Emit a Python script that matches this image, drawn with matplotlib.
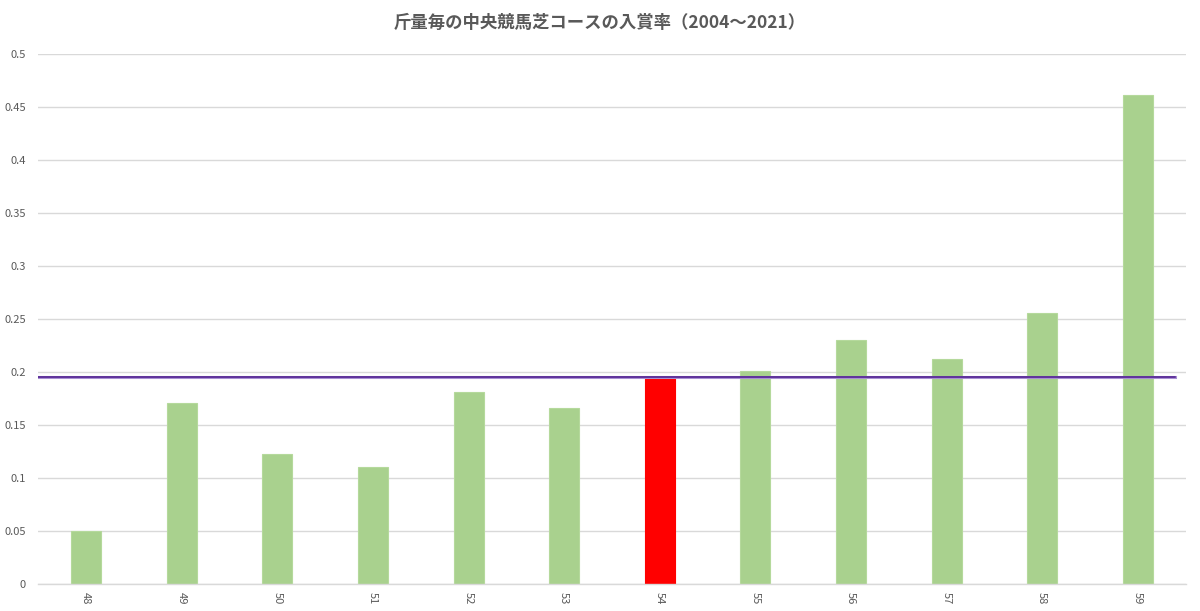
import matplotlib
matplotlib.use("Agg")
import matplotlib.pyplot as plt

plt.rcParams['font.family'] = ['Noto Sans CJK JP', 'DejaVu Sans']

weights = ["48", "49", "50", "51", "52", "53", "54", "55", "56", "57", "58", "59"]
rates = [0.0497, 0.171, 0.123, 0.110, 0.181, 0.166, 0.1955, 0.201, 0.2305, 0.2125, 0.256, 0.461]
highlight = "54"
average = 0.1956
title = "斤量毎の中央競馬芝コースの入賞率（2004〜2021）"

green = "#a9d18e"
red = "#ff0000"
text_gray = "#595959"

fig = plt.figure(figsize=(12, 6.11), dpi=100)
ax = fig.add_axes([0.032, 0.0442, 0.956, 0.8674])

colors = [red if w == highlight else green for w in weights]
edges = ["#ff0000" if w == highlight else "#b5d99c" for w in weights]
x = list(range(len(weights)))
ax.bar(x, rates, width=0.315, color=colors, edgecolor=edges, linewidth=0.8, zorder=2)

ax.set_xlim(-0.5, len(weights) - 0.5)
ax.set_ylim(0, 0.5)
ax.set_yticks([i * 0.05 for i in range(11)])
ax.set_yticklabels(["0", "0.05", "0.1", "0.15", "0.2", "0.25", "0.3", "0.35", "0.4", "0.45", "0.5"])
ax.set_xticks(x)
ax.set_xticklabels(weights, rotation=270)

ax.grid(axis='y', color="#d9d9d9", linewidth=1.0, zorder=0)
ax.set_axisbelow(True)
for s in ["top", "right", "left"]:
    ax.spines[s].set_visible(False)
ax.spines["bottom"].set_color("#d9d9d9")
ax.spines["bottom"].set_linewidth(1.0)

ax.tick_params(axis='both', length=0, colors=text_gray, labelsize=8)
ax.tick_params(axis='y', pad=9)
ax.tick_params(axis='x', pad=6)

ax.axhline(average, xmin=0, xmax=0.991, color="#a98fd2", linewidth=2.2, zorder=3)
ax.axhline(average, xmin=0, xmax=0.991, color="#4a1a8c", linewidth=1.1, zorder=4)

fig.text(0.5, 0.963, title, ha='center', va='center', fontsize=12.5,
         color=text_gray, fontweight='bold')

fig.savefig("out.png", dpi=100, facecolor="white")
